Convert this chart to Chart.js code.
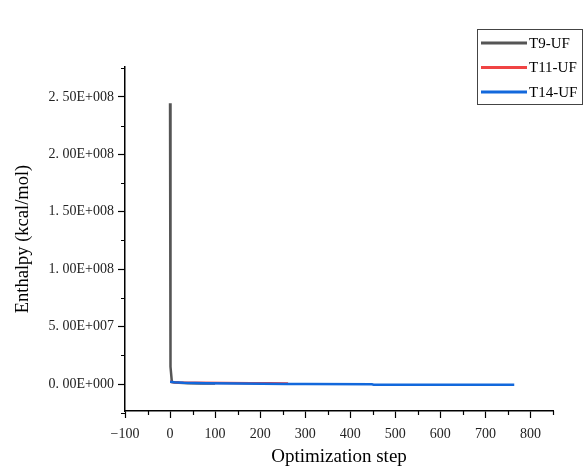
<!DOCTYPE html>
<html>
<head>
<meta charset="utf-8">
<script src="https://cdn.jsdelivr.net/npm/chart.js@4.4.0/dist/chart.umd.min.js"></script>
<style>
  html, body { margin: 0; padding: 0; background: #fff; }
  #wrap { width: 584px; height: 472px; }
</style>
</head>
<body>
<div id="wrap"><canvas id="c" width="584" height="472"></canvas></div>
<script>
// optimization steps / enthalpy values
const t9Steps  = [0, 1, 4, 10, 20, 40, 70, 100];
const t9Vals   = [2.445e8, 1.5e7, 1.8e6, 1.3e6, 1.0e6, 0.6e6, 0.4e6, 0.5e6];
const t11Steps = [0, 5, 20, 60, 120, 180, 220, 262];
const t11Vals  = [1.9e6, 1.7e6, 1.3e6, 1.0e6, 0.8e6, 0.7e6, 0.7e6, 0.5e6];
const t14Steps = [0, 10, 30, 80, 150, 260, 300, 448, 452, 600, 764];
const t14Vals  = [1.9e6, 1.5e6, 1.0e6, 0.6e6, 0.4e6, 0.0, -0.1e6, -0.2e6, -0.6e6, -0.6e6, -0.7e6];

const seriesNames  = ['T9-UF', 'T11-UF', 'T14-UF'];
const seriesColors = ['#555555', '#f04444', '#1268dc'];

const xTicksMajor = [-100, 0, 100, 200, 300, 400, 500, 600, 700, 800];
const yTicksMajor = [0, 5e7, 1e8, 1.5e8, 2e8, 2.5e8];

function pts(xs, ys) {
  return xs.map((x, i) => ({ x: x, y: ys[i] }));
}

function fmtSci(v) {
  if (v === 0) return '0. 00E+000';
  const e = Math.floor(Math.log10(Math.abs(v)));
  const m = (v / Math.pow(10, e)).toFixed(2);
  return m.replace('.', '. ') + 'E+' + String(e).padStart(3, '0');
}

const serif = "'Liberation Serif', 'DejaVu Serif', serif";

// minor ticks between the major ones
const minorTicks = {
  id: 'minorTicks',
  afterDraw(chart) {
    const ctx = chart.ctx;
    const xs = chart.scales.x, ys = chart.scales.y;
    ctx.save();
    ctx.strokeStyle = '#000';
    ctx.lineWidth = 1.2;
    ctx.beginPath();
    for (let v = -50; v <= 850; v += 100) {
      const px = Math.round(xs.getPixelForValue(v)) + 0.5;
      ctx.moveTo(px, xs.top);
      ctx.lineTo(px, xs.top + 4);
    }
    for (let v = -2.5e7; v <= 2.75e8; v += 5e7) {
      const py = Math.round(ys.getPixelForValue(v)) + 0.5;
      ctx.moveTo(ys.right, py);
      ctx.lineTo(ys.right - 4, py);
    }
    ctx.stroke();
    ctx.restore();
  }
};

// boxed legend at top right, as in the original figure
const boxLegend = {
  id: 'boxLegend',
  afterDraw(chart) {
    const ctx = chart.ctx;
    ctx.save();
    ctx.strokeStyle = '#444';
    ctx.lineWidth = 1;
    ctx.strokeRect(477.5, 29.5, 105, 75);
    ctx.font = '15px ' + serif;
    ctx.textBaseline = 'middle';
    ctx.fillStyle = '#000';
    seriesNames.forEach((name, i) => {
      const y = 43 + i * 24.5;
      ctx.strokeStyle = seriesColors[i];
      ctx.lineWidth = 3;
      ctx.beginPath();
      ctx.moveTo(481, y);
      ctx.lineTo(527, y);
      ctx.stroke();
      ctx.fillText(name, 529, y + 1);
    });
    ctx.restore();
  }
};

const ds = (i, data, order) => ({
  label: seriesNames[i],
  data: data,
  borderColor: seriesColors[i],
  backgroundColor: seriesColors[i],
  borderWidth: 2.5,
  pointRadius: 0,
  tension: 0,
  order: order
});

new Chart(document.getElementById('c'), {
  type: 'line',
  data: {
    datasets: [
      ds(0, pts(t9Steps, t9Vals), 2),
      ds(1, pts(t11Steps, t11Vals), 1),
      ds(2, pts(t14Steps, t14Vals), 0)
    ]
  },
  options: {
    responsive: false,
    animation: false,
    parsing: false,
    layout: { padding: { top: 67, right: 31, left: 0, bottom: 0 } },
    plugins: { legend: { display: false }, tooltip: { enabled: false } },
    scales: {
      x: {
        type: 'linear',
        min: -100, max: 850,
        afterFit: s => { s.height = 61; },
        afterBuildTicks: s => { s.ticks = xTicksMajor.map(v => ({ value: v })); },
        border: { color: '#000', width: 1.5 },
        grid: { drawOnChartArea: false, color: '#000', tickLength: 7, tickWidth: 1.2 },
        ticks: {
          color: '#222',
          font: { family: serif, size: 14 },
          padding: 8,
          maxRotation: 0,
          callback: v => v < 0 ? '\u2212' + Math.abs(v) : String(v)
        },
        title: {
          display: true,
          text: 'Optimization step',
          color: '#000',
          font: { family: serif, size: 19 },
          padding: { top: 10 }
        }
      },
      y: {
        type: 'linear',
        min: -2.35e7, max: 2.76e8,
        afterFit: s => { s.width = 125; },
        afterBuildTicks: s => { s.ticks = yTicksMajor.map(v => ({ value: v })); },
        border: { color: '#000', width: 1.5 },
        grid: { drawOnChartArea: false, color: '#000', tickLength: 7, tickWidth: 1.2 },
        ticks: {
          color: '#222',
          font: { family: serif, size: 14 },
          padding: 4,
          callback: v => fmtSci(v)
        },
        title: {
          display: true,
          text: 'Enthalpy (kcal/mol)',
          color: '#000',
          font: { family: serif, size: 18.5 },
          padding: { top: 12, bottom: 8 }
        }
      }
    }
  },
  plugins: [minorTicks, boxLegend]
});
</script>
</body>
</html>
